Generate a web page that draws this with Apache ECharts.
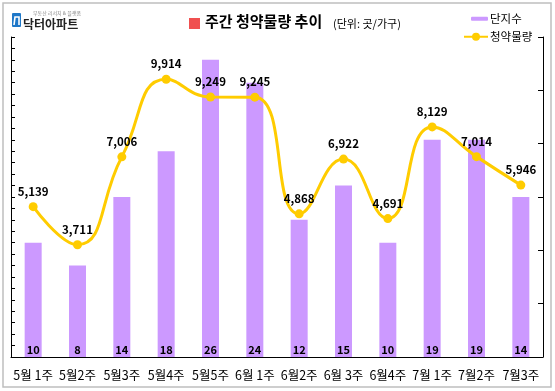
<!DOCTYPE html>
<html><head><meta charset="utf-8">
<script src="https://cdn.jsdelivr.net/npm/echarts@6/dist/echarts.min.js"></script>
<style>html,body{margin:0;padding:0;background:#fff}#c{width:555px;height:391px}</style>
</head><body><div id="c"></div>
<script>
const categories = ['5월 1주','5월2주','5월3주','5월4주','5월5주','6월 1주','6월2주','6월 3주','6월4주','7월 1주','7월2주','7월3주'];
const complexCounts = [10, 8, 14, 18, 26, 24, 12, 15, 10, 19, 19, 14];
const supplyVolumes = [5139, 3711, 7006, 9914, 9249, 9245, 4868, 6922, 4691, 8129, 7014, 5946];

const FONT = '"Noto Sans CJK KR", "Noto Sans", sans-serif';
const chart = echarts.init(document.getElementById('c'));
chart.setOption({
  animation: false,
  textStyle: { fontFamily: FONT },
  grid: { left: 11, right: 12, top: 37, bottom: 34 },
  legend: [
    { data: ['단지수'], left: 466, top: 8, itemWidth: 17, itemHeight: 4, itemGap: 4,
      textStyle: { fontSize: 11.5, color: '#000', fontFamily: FONT, padding: [0,0,0,-3] } },
    { data: ['청약물량'], left: 458, top: 26, itemWidth: 24, itemHeight: 10,
      textStyle: { fontSize: 11.5, color: '#000', fontFamily: FONT, padding: [0,0,0,-3] } }
  ],
  xAxis: {
    type: 'category', data: categories,
    axisLine: { lineStyle: { color: '#000', width: 1 } },
    axisTick: { inside: true, length: 4, lineStyle: { color: '#000' } },
    axisLabel: { color: '#000', fontSize: 12.5, margin: 12, fontFamily: FONT, interval: 0 }
  },
  yAxis: [
    { type: 'value', min: 0, max: 28, interval: 1,
      axisLine: { show: true, lineStyle: { color: '#000' } },
      axisTick: { show: true, inside: true, length: 4, lineStyle: { color: '#000' } },
      axisLabel: { show: false }, splitLine: { show: false } },
    { type: 'value', min: -500, max: 11500, interval: 2000, position: 'right',
      axisLine: { show: true, lineStyle: { color: '#000' } },
      axisTick: { show: true, inside: true, length: 5, lineStyle: { color: '#000' } },
      axisLabel: { show: false }, splitLine: { show: false } }
  ],
  series: [
    { name: '단지수', type: 'bar', data: complexCounts, barWidth: 17, yAxisIndex: 0,
      itemStyle: { color: '#CC99FF' },
      label: { show: true, position: 'insideBottom', distance: 2, color: '#000', fontSize: 11, fontWeight: 'bold', fontFamily: FONT } },
    { name: '청약물량', type: 'line', data: supplyVolumes, yAxisIndex: 1, smooth: 0.5,
      symbol: 'circle', symbolSize: 9,
      lineStyle: { color: '#FFCC00', width: 3 }, itemStyle: { color: '#FFCC00' },
      label: { show: true, position: 'top', distance: 5, color: '#000', fontSize: 11.5, fontWeight: 'bold', fontFamily: FONT,
        formatter: p => p.value.toLocaleString('en-US') } }
  ],
  graphic: [
    { type: 'rect', shape: { x: 3, y: 3, width: 548, height: 384 }, style: { fill: 'none', stroke: '#BFBFBF', lineWidth: 1.5 }, silent: true },
    { type: 'rect', shape: { x: 12, y: 13, width: 9, height: 14, r: 1 }, style: { fill: '#1F78C8' } },
    { type: 'polyline', shape: { points: [[14,25],[15,17],[19,17],[19,25]] }, style: { stroke: '#fff', lineWidth: 1.6, fill: 'none' } },
    { type: 'text', left: 33, top: 11, style: { text: '부동산 리서치 & 플랫폼', fontSize: 5, fill: '#888', fontFamily: FONT } },
    { type: 'text', left: 23, top: 18, style: { text: '닥터아파트', fontSize: 12, fontWeight: 'bold', fill: '#222', fontFamily: FONT } },
    { type: 'rect', shape: { x: 189, y: 18, width: 11, height: 11 }, style: { fill: '#F05050' } },
    { type: 'text', left: 205, top: 14, style: { text: '주간 청약물량 추이', fontSize: 15, fontWeight: 'bold', fill: '#000', fontFamily: FONT } },
    { type: 'text', left: 333, top: 18, style: { text: '(단위: 곳/가구)', fontSize: 11, fill: '#000', fontFamily: FONT } }
  ]
});
</script></body></html>
